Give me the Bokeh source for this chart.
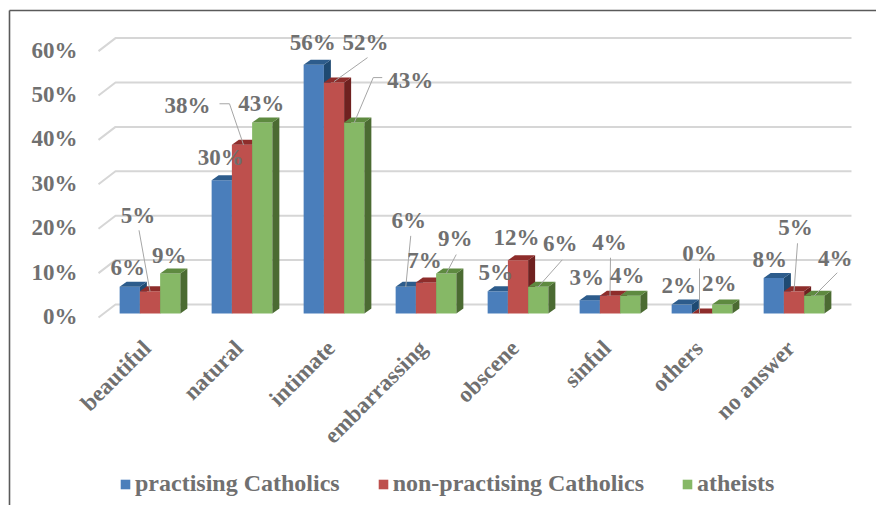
import math
from bokeh.plotting import figure
from bokeh.models import Range1d, Legend, LegendItem
from bokeh.core.properties import value
from bokeh.embed import file_html
from bokeh.resources import INLINE

# ---- data -------------------------------------------------------------
categories = ["beautiful", "natural", "intimate", "embarrassing",
              "obscene", "sinful", "others", "no answer"]
practising = [6, 30, 56, 6, 5, 3, 2, 8]
non_practising = [5, 38, 52, 7, 12, 4, 0, 5]
atheists = [9, 43, 43, 9, 6, 4, 2, 4]
series_names = ["practising Catholics", "non-practising Catholics", "atheists"]
y_ticks = [0, 10, 20, 30, 40, 50, 60]
y_tick_labels = ["0%", "10%", "20%", "30%", "40%", "50%", "60%"]

# ---- styling ----------------------------------------------------------
W, H = 876, 505
X0_PX = 149.5      # screen x of first category centre
CAT_PX = 92.0      # screen pixels per category
ZERO_PX = 313.0    # screen y of the 0 % line on the front plane
PCT_PX = 4.44      # screen pixels per percentage point
BAR_W = 0.22       # bar width in category units
DEPTH_X = 7.0      # 3-D depth, screen px
DEPTH_Y = 5.0

FONT_NAME = "Liberation Serif"
FONT = value(FONT_NAME)
TEXT_COLOR = "#707070"
front_colors = ["#4a7ebb", "#be504d", "#86b866"]
top_colors = ["#2d5c8c", "#8e2d2b", "#5e8a40"]
side_colors = ["#1f4a72", "#6f2120", "#4b6b32"]
GRID_COLOR = "#d6d6d6"
LEADER_COLOR = "#a6a6a6"


def sx(px):
    """horizontal screen distance -> category units"""
    return px / CAT_PX


def sy(px):
    """vertical screen distance (down positive) -> percentage units"""
    return -px / PCT_PX


def ux(px):
    return (px - X0_PX) / CAT_PX


def uy(py):
    return (ZERO_PX - py) / PCT_PX


# data-label placement relative to each bar's front top centre (px)
label_offsets = [
    [(-2, -19), (-1, -23), (-1, -22), (3, -66), (-2, -19), (-3, -23), (-3, -19), (-4, -18)],
    [(-12, -76), (-54.5, -39), (31.5, -40), (-1.5, -22), (-1.5, -23), (-0.5, -53), (-2.5, -60), (1.5, -64)],
    [(-1, -18), (-1, -19), (56, -42), (9, -35), (22, -43), (-3, -20), (-3, -21), (21, -37)],
]
# leader lines: (series, category, polyline relative to bar top in px)
leaders = [
    (0, 3, [(5, -51), (0, 0)]),
    (1, 0, [(-11, -61), (0, 0)]),
    (1, 1, [(-22.5, -41), (-12.5, -41), (1.5, 0)]),
    (1, 2, [(33.5, -25), (0, -1)]),
    (1, 5, [(0.5, -38), (0, 0)]),
    (1, 6, [(-2.5, -45), (-2.5, 0)]),
    (1, 7, [(3.5, -48), (0, 0)]),
    (2, 2, [(28, -45), (19, -45), (0, 0)]),
    (2, 3, [(10, -19), (0, 0)]),
    (2, 4, [(24, -27), (0, 0)]),
    (2, 7, [(23, -23), (0, 0)]),
]

p = figure(width=W, height=H,
           x_range=Range1d(ux(0), ux(W)), y_range=Range1d(uy(H), uy(0)),
           x_axis_type=None, y_axis_type=None, min_border=0,
           toolbar_location=None, output_backend="svg",
           outline_line_color=None, background_fill_color="white",
           border_fill_color="white")

# chart-area border (top and left)
p.line([ux(9), ux(W)], [uy(10), uy(10)], line_color="#5a5a5a", line_width=1.6)
p.line([ux(9), ux(9)], [uy(10), uy(H)], line_color="#5a5a5a", line_width=1.6)

# back-wall gridlines with the slanted side-wall segment
g_xs, g_ys = [], []
for t in y_ticks:
    g_xs.append([ux(98), ux(115), ux(851)])
    g_ys.append([t + sy(4), t + sy(-9), t + sy(-9)])
p.multi_line(g_xs, g_ys, line_color=GRID_COLOR, line_width=2)

# y tick labels
p.text(x=[ux(77)] * len(y_ticks), y=[t + sy(3) for t in y_ticks], text=y_tick_labels,
       text_align="right", text_baseline="middle", text_font=FONT,
       text_font_style="bold", text_font_size="23px", text_color=TEXT_COLOR)

# bars: front face, side face, top face
series = [practising, non_practising, atheists]
dx, dy = sx(DEPTH_X), sy(-DEPTH_Y)
front_renderers = []
for s, vals in enumerate(series):
    xs_c = [i + (s - 1) * BAR_W for i in range(len(categories))]
    r = p.vbar(x=xs_c, top=vals, bottom=0, width=BAR_W,
               fill_color=front_colors[s], line_color=None)
    front_renderers.append(r)
    side_xs, side_ys, top_xs, top_ys = [], [], [], []
    for xc, v in zip(xs_c, vals):
        xl, xr = xc - BAR_W / 2, xc + BAR_W / 2
        side_xs.append([xr, xr + dx, xr + dx, xr])
        side_ys.append([0, dy, v + dy, v])
        top_xs.append([xl, xr, xr + dx, xl + dx])
        top_ys.append([v, v, v + dy, v + dy])
    p.patches(side_xs, side_ys, fill_color=side_colors[s], line_color=None)
    p.patches(top_xs, top_ys, fill_color=top_colors[s], line_color=None)

# leader lines
l_xs, l_ys = [], []
for s, i, pts in leaders:
    xc = i + (s - 1) * BAR_W
    v = series[s][i]
    l_xs.append([xc + sx(a) for a, b in pts])
    l_ys.append([v + sy(b) for a, b in pts])
p.multi_line(l_xs, l_ys, line_color=LEADER_COLOR, line_width=1)

# data labels
for s, vals in enumerate(series):
    lx, ly, lt = [], [], []
    for i, v in enumerate(vals):
        ox, oy = label_offsets[s][i]
        lx.append(i + (s - 1) * BAR_W + sx(ox))
        ly.append(v + sy(oy))
        lt.append(f"{v}%")
    p.text(x=lx, y=ly, text=lt, text_align="center", text_baseline="middle",
           text_font=FONT, text_font_style="bold", text_font_size="23px",
           text_color=TEXT_COLOR)

# rotated category labels
p.text(x=[i + sx(-3) for i in range(len(categories))],
       y=[uy(344)] * len(categories), text=categories, angle=math.pi / 4,
       text_align="right", text_baseline="alphabetic", text_font=FONT,
       text_font_style="bold", text_font_size="23px", text_color=TEXT_COLOR)

legend = Legend(items=[LegendItem(label=n, renderers=[r])
                       for n, r in zip(series_names, front_renderers)],
                orientation="horizontal", location=(119, 8),
                glyph_width=12, glyph_height=12, label_standoff=4, spacing=37,
                padding=0, margin=0, border_line_color=None,
                background_fill_alpha=0,
                label_text_font=FONT_NAME, label_text_font_style="bold",
                label_text_font_size="24px", label_text_color=TEXT_COLOR)
p.add_layout(legend)

open("out.html", "w").write(file_html(p, INLINE))
